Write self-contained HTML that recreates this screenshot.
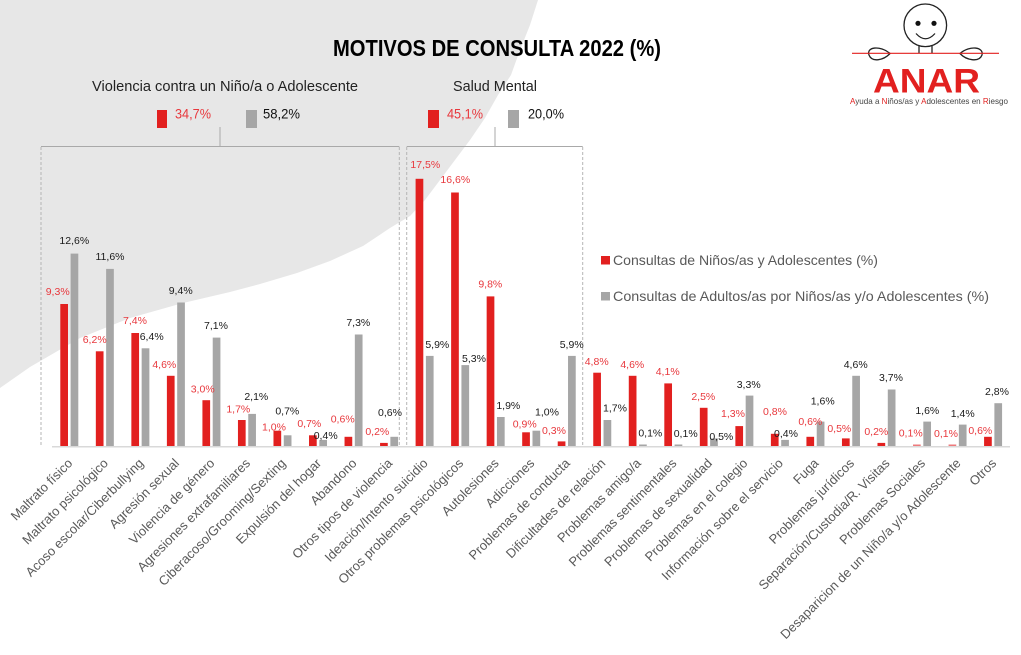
<!DOCTYPE html>
<html><head><meta charset="utf-8"><style>
html,body{margin:0;padding:0;background:#fff;}
svg{display:block;font-family:"Liberation Sans",sans-serif;}
</style></head><body>
<svg width="1021" height="655" viewBox="0 0 1021 655" xmlns="http://www.w3.org/2000/svg">
<rect width="1021" height="655" fill="#fff"/>
<polygon fill="#e7e7e7" points="0,0 538,0 530,25 520,50 511,75 498,95 485,118 470,140 455,160 440,180 425,200 410,216 390,228 363,246 330,261 297,273 260,284 230,292 183,303 130,318 80,338 30,367 0,388"/>

<!-- title -->
<text x="333" y="56" font-size="23.5" font-weight="bold" fill="#000" textLength="328" lengthAdjust="spacingAndGlyphs">MOTIVOS DE CONSULTA 2022 (%)</text>

<!-- logo -->
<g fill="none" stroke="#222" stroke-width="1.3">
<circle cx="925.3" cy="25.3" r="21.3"/>
<path d="M916,33.5 Q925.5,44 935,33.5"/>
<line x1="919" y1="46" x2="919" y2="53"/>
<line x1="932" y1="46" x2="932" y2="53"/>
<path d="M890,53.5 C880,45 866,47 869,55 C872,63 884,60 890,53.5 Z"/>
<path d="M960,53.5 C970,45 984,47 982,55 C979,63 966,60 960,53.5 Z"/>
</g>
<circle cx="918" cy="23.3" r="2.6" fill="#111"/>
<circle cx="934" cy="23.3" r="2.6" fill="#111"/>
<line x1="852" y1="53.3" x2="999" y2="53.3" stroke="#e2201f" stroke-width="1.2"/>
<text x="873" y="92.3" font-size="34.5" font-weight="bold" fill="#e2201f" textLength="107" lengthAdjust="spacingAndGlyphs">ANAR</text>
<text x="850" y="104" font-size="8.5" fill="#444" textLength="158" lengthAdjust="spacingAndGlyphs"><tspan fill="#e2201f">A</tspan>yuda a <tspan fill="#e2201f">N</tspan>iños/as y <tspan fill="#e2201f">A</tspan>dolescentes en <tspan fill="#e2201f">R</tspan>iesgo</text>

<!-- group headings -->
<text x="92" y="91" font-size="15" fill="#222" textLength="266" lengthAdjust="spacingAndGlyphs">Violencia contra un Niño/a o Adolescente</text>
<text x="453" y="91" font-size="15" fill="#222" textLength="84" lengthAdjust="spacingAndGlyphs">Salud Mental</text>

<rect x="157" y="110" width="10" height="18" fill="#e2201f"/>
<text x="175" y="118.5" font-size="13.5" fill="#e8383d" textLength="36" lengthAdjust="spacingAndGlyphs">34,7%</text>
<rect x="246" y="110" width="11" height="18" fill="#a6a6a6"/>
<text x="263" y="118.5" font-size="13.5" fill="#111" textLength="37" lengthAdjust="spacingAndGlyphs">58,2%</text>
<rect x="428" y="110" width="11" height="18" fill="#e2201f"/>
<text x="447" y="118.5" font-size="13.5" fill="#e8383d" textLength="36" lengthAdjust="spacingAndGlyphs">45,1%</text>
<rect x="508" y="110" width="11" height="18" fill="#a6a6a6"/>
<text x="528" y="118.5" font-size="13.5" fill="#111" textLength="36" lengthAdjust="spacingAndGlyphs">20,0%</text>

<!-- boxes -->
<g stroke="#a9a9a9" stroke-width="1" fill="none">
<line x1="220" y1="127" x2="220" y2="146.5"/>
<line x1="495" y1="127" x2="495" y2="146.5"/>
<line x1="41" y1="146.5" x2="399.3" y2="146.5"/>
<line x1="406.7" y1="146.5" x2="582.7" y2="146.5"/>
</g>
<g stroke="#b5b5b5" stroke-width="1" fill="none" stroke-dasharray="3,2">
<line x1="41" y1="147" x2="41" y2="447"/>
<line x1="399.3" y1="147" x2="399.3" y2="447"/>
<line x1="406.7" y1="147" x2="406.7" y2="447"/>
<line x1="582.7" y1="147" x2="582.7" y2="447"/>
</g>

<!-- legend -->
<rect x="601" y="256" width="9" height="8.5" fill="#e2201f"/>
<text x="613" y="265" font-size="14" fill="#595959" textLength="265" lengthAdjust="spacingAndGlyphs">Consultas de Niños/as y Adolescentes (%)</text>
<rect x="601" y="292" width="9" height="8.5" fill="#a6a6a6"/>
<text x="613" y="301" font-size="14" fill="#595959" textLength="376" lengthAdjust="spacingAndGlyphs">Consultas de Adultos/as por Niños/as y/o Adolescentes (%)</text>

<!-- axis -->
<line x1="52" y1="446.8" x2="1010" y2="446.8" stroke="#d9d9d9" stroke-width="1.5"/>

<!-- bars -->
<g fill="#e2201f">
<rect x="60.30" y="304.0" width="7.7" height="142.0"/>
<rect x="95.83" y="351.3" width="7.7" height="94.7"/>
<rect x="131.36" y="333.0" width="7.7" height="113.0"/>
<rect x="166.89" y="375.8" width="7.7" height="70.2"/>
<rect x="202.42" y="400.2" width="7.7" height="45.8"/>
<rect x="237.95" y="420.0" width="7.7" height="26.0"/>
<rect x="273.48" y="430.7" width="7.7" height="15.3"/>
<rect x="309.01" y="435.3" width="7.7" height="10.7"/>
<rect x="344.54" y="436.8" width="7.7" height="9.2"/>
<rect x="380.07" y="442.9" width="7.7" height="3.1"/>
<rect x="415.60" y="178.8" width="7.7" height="267.2"/>
<rect x="451.13" y="192.5" width="7.7" height="253.5"/>
<rect x="486.66" y="296.4" width="7.7" height="149.6"/>
<rect x="522.19" y="432.3" width="7.7" height="13.7"/>
<rect x="557.72" y="441.4" width="7.7" height="4.6"/>
<rect x="593.25" y="372.7" width="7.7" height="73.3"/>
<rect x="628.78" y="375.8" width="7.7" height="70.2"/>
<rect x="664.31" y="383.4" width="7.7" height="62.6"/>
<rect x="699.84" y="407.8" width="7.7" height="38.2"/>
<rect x="735.37" y="426.1" width="7.7" height="19.9"/>
<rect x="770.90" y="433.8" width="7.7" height="12.2"/>
<rect x="806.43" y="436.8" width="7.7" height="9.2"/>
<rect x="841.96" y="438.4" width="7.7" height="7.6"/>
<rect x="877.49" y="442.9" width="7.7" height="3.1"/>
<rect x="913.02" y="444.5" width="7.7" height="1.5" fill="#ee7a7c"/>
<rect x="948.55" y="444.5" width="7.7" height="1.5" fill="#ee7a7c"/>
<rect x="984.08" y="436.8" width="7.7" height="9.2"/>
</g>
<g fill="#a6a6a6">
<rect x="70.60" y="253.6" width="7.7" height="192.4"/>
<rect x="106.13" y="268.9" width="7.7" height="177.1"/>
<rect x="141.66" y="348.3" width="7.7" height="97.7"/>
<rect x="177.19" y="302.5" width="7.7" height="143.5"/>
<rect x="212.72" y="337.6" width="7.7" height="108.4"/>
<rect x="248.25" y="413.9" width="7.7" height="32.1"/>
<rect x="283.78" y="435.3" width="7.7" height="10.7"/>
<rect x="319.31" y="439.9" width="7.7" height="6.1"/>
<rect x="354.84" y="334.5" width="7.7" height="111.5"/>
<rect x="390.37" y="436.8" width="7.7" height="9.2"/>
<rect x="425.90" y="355.9" width="7.7" height="90.1"/>
<rect x="461.43" y="365.1" width="7.7" height="80.9"/>
<rect x="496.96" y="417.0" width="7.7" height="29.0"/>
<rect x="532.49" y="430.7" width="7.7" height="15.3"/>
<rect x="568.02" y="355.9" width="7.7" height="90.1"/>
<rect x="603.55" y="420.0" width="7.7" height="26.0"/>
<rect x="639.08" y="444.5" width="7.7" height="1.5"/>
<rect x="674.61" y="444.5" width="7.7" height="1.5"/>
<rect x="710.14" y="438.4" width="7.7" height="7.6"/>
<rect x="745.67" y="395.6" width="7.7" height="50.4"/>
<rect x="781.20" y="439.9" width="7.7" height="6.1"/>
<rect x="816.73" y="421.6" width="7.7" height="24.4"/>
<rect x="852.26" y="375.8" width="7.7" height="70.2"/>
<rect x="887.79" y="389.5" width="7.7" height="56.5"/>
<rect x="923.32" y="421.6" width="7.7" height="24.4"/>
<rect x="958.85" y="424.6" width="7.7" height="21.4"/>
<rect x="994.38" y="403.2" width="7.7" height="42.8"/>
</g>

<!-- value labels red -->
<g font-size="10.5" fill="#e8383d" text-anchor="middle">
<text x="57.7" y="294.8">9,3%</text>
<text x="94.7" y="343.1">6,2%</text>
<text x="135" y="323.8">7,4%</text>
<text x="164.3" y="367.8">4,6%</text>
<text x="202.7" y="392.5">3,0%</text>
<text x="238.3" y="412.5">1,7%</text>
<text x="274" y="430.5">1,0%</text>
<text x="309.3" y="427.1">0,7%</text>
<text x="342.7" y="422.5">0,6%</text>
<text x="377.3" y="434.8">0,2%</text>
<text x="425.3" y="168.1">17,5%</text>
<text x="455.3" y="182.8">16,6%</text>
<text x="490.3" y="287.5">9,8%</text>
<text x="524.7" y="427.5">0,9%</text>
<text x="554" y="434.1">0,3%</text>
<text x="596.7" y="364.8">4,8%</text>
<text x="632.3" y="368.1">4,6%</text>
<text x="667.7" y="374.8">4,1%</text>
<text x="703.3" y="399.8">2,5%</text>
<text x="733" y="417.1">1,3%</text>
<text x="775" y="415.1">0,8%</text>
<text x="810.3" y="425.1">0,6%</text>
<text x="839.3" y="431.8">0,5%</text>
<text x="876.3" y="435.1">0,2%</text>
<text x="910.7" y="436.5">0,1%</text>
<text x="946" y="437.1">0,1%</text>
<text x="980.3" y="433.8">0,6%</text>
</g>
<!-- value labels gray -->
<g font-size="10.5" fill="#1a1a1a" text-anchor="middle">
<text x="74.3" y="243.8">12,6%</text>
<text x="110" y="259.8">11,6%</text>
<text x="151.7" y="339.8">6,4%</text>
<text x="180.7" y="293.8">9,4%</text>
<text x="216" y="328.8">7,1%</text>
<text x="256.3" y="399.8">2,1%</text>
<text x="287.3" y="414.5">0,7%</text>
<text x="325.7" y="439.1">0,4%</text>
<text x="358.3" y="326.1">7,3%</text>
<text x="390" y="416.1">0,6%</text>
<text x="437.3" y="347.8">5,9%</text>
<text x="474" y="362.1">5,3%</text>
<text x="508.3" y="408.8">1,9%</text>
<text x="547" y="415.5">1,0%</text>
<text x="571.7" y="347.8">5,9%</text>
<text x="615" y="411.5">1,7%</text>
<text x="650.3" y="436.5">0,1%</text>
<text x="685.7" y="437.1">0,1%</text>
<text x="721.3" y="439.8">0,5%</text>
<text x="748.7" y="387.8">3,3%</text>
<text x="786" y="437.1">0,4%</text>
<text x="822.7" y="404.5">1,6%</text>
<text x="855.7" y="367.8">4,6%</text>
<text x="891" y="381.1">3,7%</text>
<text x="927.3" y="413.8">1,6%</text>
<text x="962.7" y="417.1">1,4%</text>
<text x="997" y="395.1">2,8%</text>
</g>

<!-- category labels -->
<g font-size="13" fill="#595959" text-anchor="end">
<text transform="translate(73.3,464) rotate(-45)">Maltrato físico</text>
<text transform="translate(108.83,464) rotate(-45)">Maltrato psicológico</text>
<text transform="translate(144.36,464) rotate(-45)">Acoso escolar/Ciberbullying</text>
<text transform="translate(179.89,464) rotate(-45)">Agresión sexual</text>
<text transform="translate(215.42,464) rotate(-45)">Violencia de género</text>
<text transform="translate(250.95,464) rotate(-45)">Agresiones extrafamiliares</text>
<text transform="translate(286.48,464) rotate(-45)">Ciberacoso/Grooming/Sexting</text>
<text transform="translate(322.01,464) rotate(-45)">Expulsión del hogar</text>
<text transform="translate(357.54,464) rotate(-45)">Abandono</text>
<text transform="translate(393.07,464) rotate(-45)">Otros tipos de violencia</text>
<text transform="translate(428.6,464) rotate(-45)">Ideación/Intento suicidio</text>
<text transform="translate(464.13,464) rotate(-45)">Otros problemas psicológicos</text>
<text transform="translate(499.66,464) rotate(-45)">Autolesiones</text>
<text transform="translate(535.19,464) rotate(-45)">Adicciones</text>
<text transform="translate(570.72,464) rotate(-45)">Problemas de conducta</text>
<text transform="translate(606.25,464) rotate(-45)">Dificultades de relación</text>
<text transform="translate(641.78,464) rotate(-45)">Problemas amigo/a</text>
<text transform="translate(677.31,464) rotate(-45)">Problemas sentimentales</text>
<text transform="translate(712.84,464) rotate(-45)">Problemas de sexualidad</text>
<text transform="translate(748.37,464) rotate(-45)">Problemas en el colegio</text>
<text transform="translate(783.9,464) rotate(-45)">Información sobre el servicio</text>
<text transform="translate(819.43,464) rotate(-45)">Fuga</text>
<text transform="translate(854.96,464) rotate(-45)">Problemas jurídicos</text>
<text transform="translate(890.49,464) rotate(-45)">Separación/Custodia/R. Visitas</text>
<text transform="translate(926.02,464) rotate(-45)">Problemas Sociales</text>
<text transform="translate(961.55,464) rotate(-45)">Desaparicion de un Niño/a y/o Adolescente</text>
<text transform="translate(997.08,464) rotate(-45)">Otros</text>
</g>
</svg>
</body></html>
